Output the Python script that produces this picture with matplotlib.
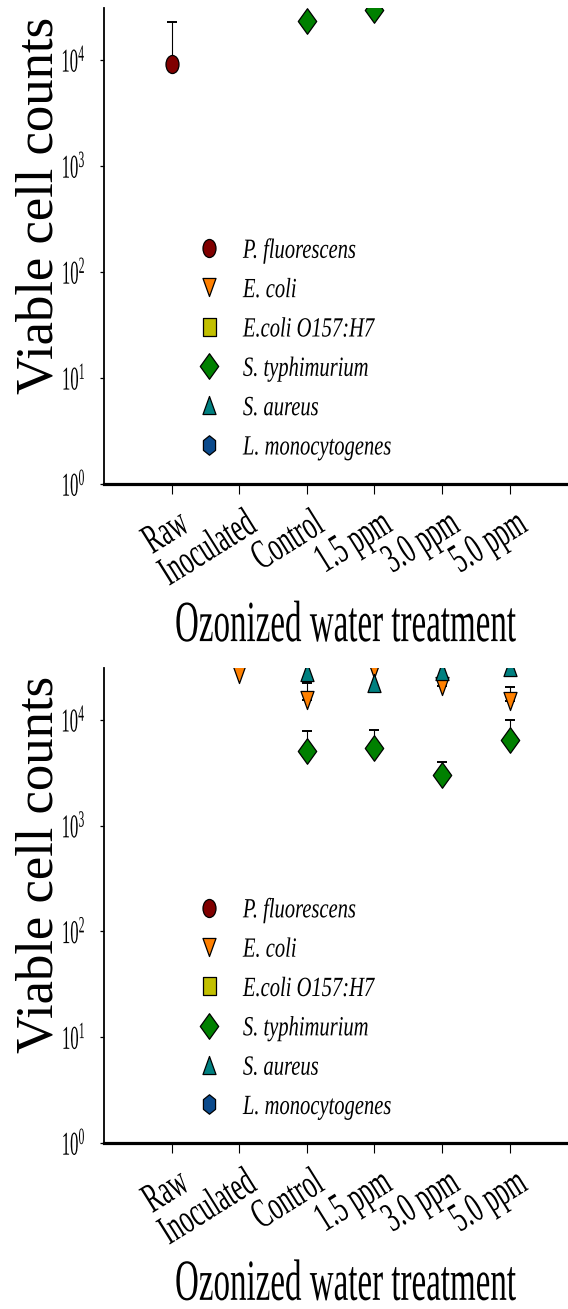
import numpy as np
import matplotlib
matplotlib.use('Agg')
import matplotlib.pyplot as plt
import matplotlib.patheffects as pe
from matplotlib.markers import MarkerStyle
from matplotlib.ticker import NullLocator
from matplotlib.transforms import Affine2D, ScaledTranslation

plt.rcParams['font.family'] = ['Liberation Serif', 'DejaVu Serif']
plt.rcParams['mathtext.fontset'] = 'custom'
plt.rcParams['mathtext.rm'] = 'Liberation Serif'
plt.rcParams['mathtext.it'] = 'Liberation Serif:italic'

nan = np.nan

treatments = ['Raw', 'Inoculated', 'Control', '1.5 ppm', '3.0 ppm', '5.0 ppm']
species = ['P. fluorescens', 'E. coli', 'E.coli O157:H7', 'S. typhimurium',
           'S. aureus', 'L. monocytogenes']

# top panel (only the points that fall inside the axis range)
top_pf = [9170, nan, nan, nan, nan, nan]
top_pf_hi = [22900, nan, nan, nan, nan, nan]     # top of error bar
top_st = [nan, nan, 23400, 30000, nan, nan]

# bottom panel
bot_ec = [nan, 27200, 15500, 30300, 21000, 15200]
bot_ec_hi = [nan, nan, 22400, nan, 23400, 20500]
bot_st = [nan, nan, 5090, 5430, 3020, 6470]
bot_st_hi = [nan, nan, 7870, 8040, 4010, 10000]
bot_sa = [nan, nan, 28400, 22400, 29000, 31500]

ytick_vals = [1, 10, 100, 1000, 10000]
ytick_labels = [r'$10^{0}$', r'$10^{1}$', r'$10^{2}$', r'$10^{3}$', r'$10^{4}$']

markers = ['o', 'v', 's', 'D', '^', 'h']
colors = ['#800000', '#ff8000', '#c2c000', '#008000', '#008080', '#0b4a8c']
sizes = [13, 13, 13, 18.4, 13, 14]


class Squeeze(pe.AbstractPathEffect):
    # narrows the glyphs along the baseline, the original text is condensed
    def __init__(self, sx, anchor='center'):
        super().__init__()
        self.sx = sx
        self.anchor = anchor

    def draw_path(self, renderer, gc, tpath, affine, rgbFace=None):
        ext = tpath.get_extents()
        x0 = {'left': 0.0, 'right': ext.x1, 'center': (ext.x0 + ext.x1) / 2}[self.anchor]
        pre = Affine2D().translate(-x0, 0).scale(self.sx, 1).translate(x0, 0)
        renderer.draw_path(gc, tpath, pre + affine, rgbFace)


def narrow(m, sx=0.72):
    # markers are squeezed the same way as the text
    ms = MarkerStyle(m)
    p = ms.get_path().transformed(ms.get_transform())
    return p.transformed(Affine2D().scale(sx, 1))


fig = plt.figure(figsize=(5.68, 13.09), dpi=100)
ax_top = fig.add_axes([104 / 568, 1 - 484 / 1309, 473.2 / 568, 476 / 1309])
ax_bot = fig.add_axes([104 / 568, 1 - 1143 / 1309, 473.2 / 568, 475 / 1309])

x = np.arange(len(treatments))

panels = [
    (ax_top, {'P. fluorescens': (top_pf, top_pf_hi),
              'S. typhimurium': (top_st, None)}),
    (ax_bot, {'E. coli': (bot_ec, bot_ec_hi),
              'S. typhimurium': (bot_st, bot_st_hi),
              'S. aureus': (bot_sa, None)}),
]

for ax, series in panels:
    for i, name in enumerate(species):
        vals, hi = series.get(name, ([nan] * 6, None))
        v = np.array(vals, float)
        if hi is not None:
            up = np.array(hi, float) - v
            ok = ~np.isnan(up)
            ax.errorbar(x[ok], v[ok], yerr=[np.zeros(ok.sum()), up[ok]], fmt='none',
                        ecolor='black', elinewidth=0.8, capsize=3.5, capthick=1.4, zorder=2)
        ax.plot(x, v, ls='none', marker=narrow(markers[i]), ms=sizes[i],
                mfc=colors[i], mec='black', mew=0.9, label=name, zorder=3)

    ax.set_yscale('log')
    ax.set_ylim(1, 31000)
    ax.set_xlim(-1, 6)
    ax.set_yticks(ytick_vals, ytick_labels)
    ax.yaxis.set_minor_locator(NullLocator())
    ax.spines['top'].set_visible(False)
    ax.spines['right'].set_visible(False)
    ax.spines['left'].set_linewidth(1.3)
    ax.spines['bottom'].set_linewidth(2.3)
    ax.tick_params(axis='y', direction='out', length=3, width=0.9, pad=10, labelsize=24)
    ax.tick_params(axis='x', direction='out', length=7, width=0.8, pad=8)
    for t in ax.get_yticklabels():
        t.set_path_effects([Squeeze(0.5, 'right')])

    ax.set_xticks(x, treatments)
    for lab in ax.get_xticklabels():
        lab.set_fontsize(30)
        lab.set_rotation(32)
        lab.set_ha('right')
        lab.set_va('top')
        lab.set_rotation_mode('anchor')
        lab.set_transform(lab.get_transform() + ScaledTranslation(0.04, 0, fig.dpi_scale_trans))
        lab.set_path_effects([Squeeze(0.6, 'right')])

    ax.set_ylabel('Viable cell counts', fontsize=38)
    ax.yaxis.set_label_coords(-0.085, 0.586)
    ax.set_xlabel('Ozonized water treatment', fontsize=42)
    ax.xaxis.set_label_coords(0.51, -0.246)
    ax.xaxis.label.set_path_effects([Squeeze(0.566, 'center')])

    leg = ax.legend(loc='upper left', bbox_to_anchor=(0.192, 0.516), frameon=False,
                    prop={'family': 'Liberation Serif', 'style': 'italic', 'size': 20},
                    numpoints=1, handlelength=1.0, handletextpad=0.73,
                    labelspacing=0.5, borderpad=0, borderaxespad=0)
    for t in leg.get_texts():
        t.set_path_effects([Squeeze(0.74, 'left')])

fig.savefig('out.png', dpi=100)
